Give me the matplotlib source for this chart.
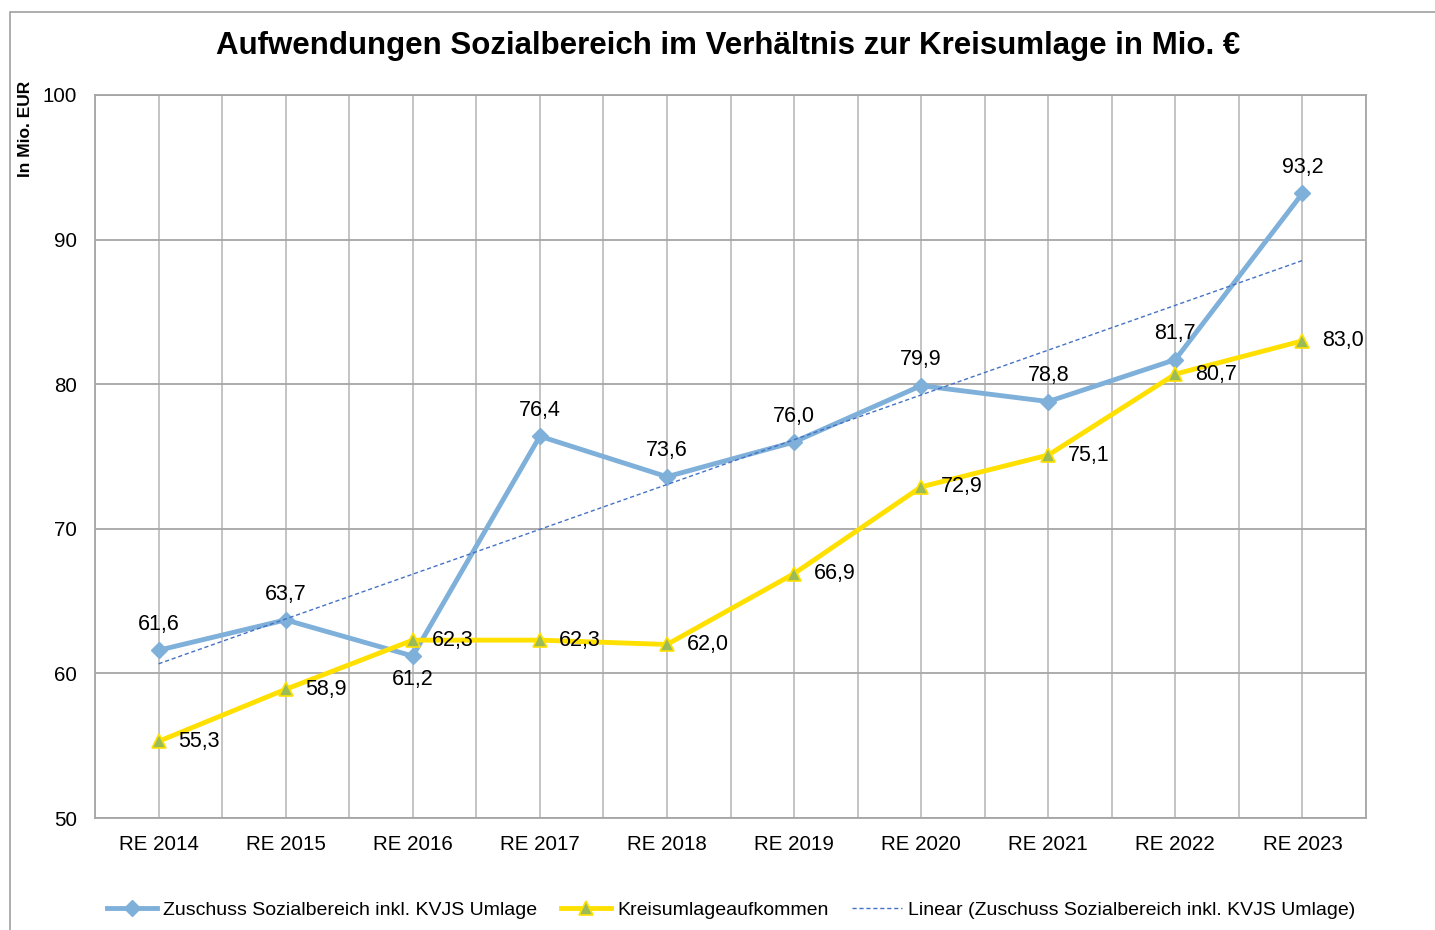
import numpy as np
import matplotlib
matplotlib.use('Agg')
from matplotlib import pyplot as plt
from matplotlib.patches import Rectangle

plt.rcParams['font.family'] = ['Liberation Sans', 'DejaVu Sans']

jahre = ['RE 2014', 'RE 2015', 'RE 2016', 'RE 2017', 'RE 2018',
         'RE 2019', 'RE 2020', 'RE 2021', 'RE 2022', 'RE 2023']
zuschuss = [61.6, 63.7, 61.2, 76.4, 73.6, 76.0, 79.9, 78.8, 81.7, 93.2]
kreisumlage = [55.3, 58.9, 62.3, 62.3, 62.0, 66.9, 72.9, 75.1, 80.7, 83.0]
y_ticks = [50, 60, 70, 80, 90, 100]

blau = '#7EB0DA'
gelb = '#FFE000'
gruen = '#9BBB59'

fig = plt.figure(figsize=(14.35, 9.3), dpi=100)
# Rahmen wie im Excel-Diagramm
fig.patches.append(Rectangle((10 / 1435, -0.1), 1.2, 1 - 12 / 930 + 0.1,
                             transform=fig.transFigure, fill=False,
                             edgecolor='#A0A0A0', lw=1.2))
ax = fig.add_axes([95 / 1435, 1 - 818 / 930, (1366 - 95) / 1435, (818 - 95) / 930])

x = np.arange(len(jahre))

# Gitter
for v in np.arange(-0.5, len(jahre), 0.5):
    ax.axvline(v, color='#BFBFBF', lw=1.3, zorder=0)
for h in y_ticks:
    ax.axhline(h, color='#A6A6A6', lw=1.3, zorder=0)

ax.plot(x, zuschuss, color=blau, lw=3.5, marker='D', ms=8, mfc=blau, mec=blau,
        label='Zuschuss Sozialbereich inkl. KVJS Umlage', zorder=3)
ax.plot(x, kreisumlage, color=gelb, lw=3.5, marker='^', ms=10, mfc=gruen, mec=gelb,
        mew=1.2, label='Kreisumlageaufkommen', zorder=4)

k, d = np.polyfit(x, zuschuss, 1)
ax.plot(x, k * x + d, color='#4472C4', lw=1.0, ls=(0, (3, 2)),
        label='Linear (Zuschuss Sozialbereich inkl. KVJS Umlage)', zorder=5)

fmt = lambda v: f'{v:.1f}'.replace('.', ',')
for i, v in enumerate(zuschuss):
    if i == 2:
        ax.annotate(fmt(v), (i, v), xytext=(0, -9), textcoords='offset points',
                    ha='center', va='top', fontsize=15.5, zorder=6)
    else:
        ax.annotate(fmt(v), (i, v), xytext=(0, 11), textcoords='offset points',
                    ha='center', va='bottom', fontsize=15.5, zorder=6)
for i, v in enumerate(kreisumlage):
    ax.annotate(fmt(v), (i, v), xytext=(14, 0), textcoords='offset points',
                ha='left', va='center', fontsize=15.5, zorder=6)

ax.set_xlim(-0.5, len(jahre) - 0.5)
ax.set_ylim(50, 100)
ax.set_yticks(y_ticks)
ax.set_xticks(x)
ax.set_xticklabels(jahre)
ax.tick_params(length=0, labelsize=14.8)
ax.tick_params(axis='x', pad=12)
ax.tick_params(axis='y', pad=13)
for s in ax.spines.values():
    s.set_color('#A6A6A6')
    s.set_linewidth(1.3)

fig.text(728 / 1435, 1 - 46 / 930, 'Aufwendungen Sozialbereich im Verhältnis zur Kreisumlage in Mio. €',
         ha='center', va='center', fontsize=22.5, fontweight='bold')
fig.text(26 / 1435, 1 - 129 / 930, 'In Mio. EUR', rotation=90, ha='center', va='center',
         fontsize=12.5, fontweight='bold')

fig.legend(loc='center', bbox_to_anchor=(731 / 1435, 1 - 910 / 930), ncol=3,
           frameon=False, fontsize=14, handlelength=2.6, columnspacing=1.2,
           handletextpad=0.3)

fig.savefig('out.png', dpi=100)
